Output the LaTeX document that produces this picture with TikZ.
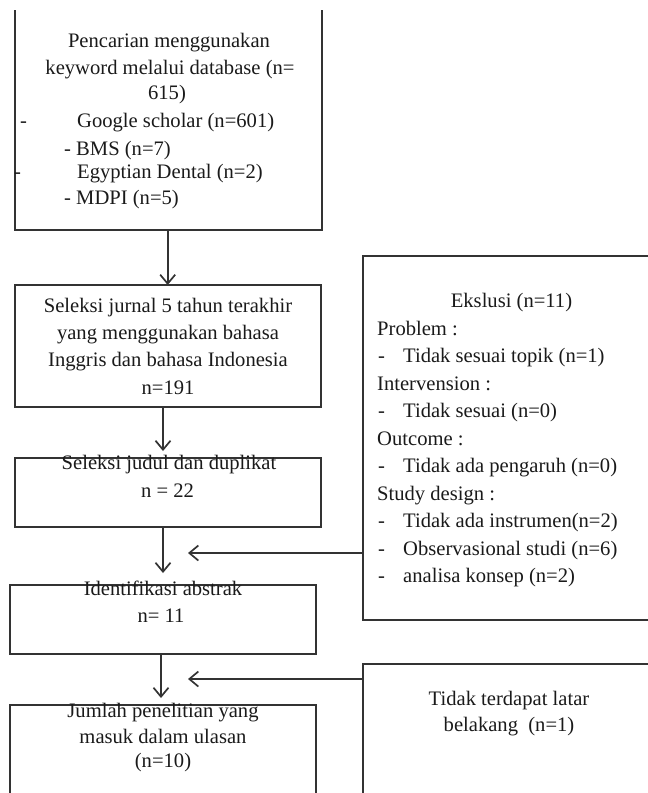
\documentclass[tikz,border=0pt]{standalone}
\usepackage{fontspec}
\setmainfont{Liberation Serif}
\usetikzlibrary{arrows.meta}
\definecolor{linec}{HTML}{333333}
\definecolor{textc}{HTML}{1A1A1A}
\tikzset{
  boxarea/.style={inner sep=0pt, outer sep=0pt, draw=none},
  boxline/.style={draw=linec, line width=1.7pt},
  arr/.style={draw=linec, line width=1.7pt, -{Straight Barb[length=9pt,width=15pt,line width=1.7pt]}},
  txt/.style={inner sep=0pt, anchor=base, text=textc, font=\fontsize{20.6}{27}\selectfont},
  ltxt/.style={txt, anchor=base west},
}
\begin{document}
\begin{tikzpicture}[x=1pt,y=-1pt]
\useasboundingbox (0,0) rectangle (648,793);
\clip (0,0) rectangle (648,793);
% box areas
\node[boxarea, minimum width=307pt, minimum height=220pt] (b1) at (168.5,120) {};
\node[boxarea, minimum width=306pt, minimum height=122pt] (b2) at (168,346) {};
\node[boxarea, minimum width=306pt, minimum height=69pt] (b3) at (168,492.5) {};
\node[boxarea, minimum width=306pt, minimum height=69pt] (b4) at (163,619.5) {};
\node[boxarea, minimum width=306pt, minimum height=100pt] (b5) at (163,755) {};
\node[boxarea, minimum width=300pt, minimum height=364pt] (ex) at (513,438) {};
\node[boxarea, minimum width=300pt, minimum height=150pt] (lt) at (513,739) {};
% box outlines
\draw[boxline] (b1.north west) -- (b1.south west) -- (b1.south east) -- (b1.north east);
\draw[boxline] (b2.north west) rectangle (b2.south east);
\draw[boxline] (b3.north west) rectangle (b3.south east);
\draw[boxline] (b4.north west) rectangle (b4.south east);
\draw[boxline] (b5.north west) rectangle (b5.south east);
\draw[boxline] (ex.north west) rectangle (ex.south east);
\draw[boxline] (lt.north west) rectangle (lt.south east);
% top box text
\node[txt] (t11) at (169,47) {Pencarian menggunakan};
\node[txt] (t12) at (170,74) {keyword melalui database (n=};
\node[txt] (t13) at (167,99.5) {615)};
\node[ltxt] (t14d) at (20,127) {-};
\node[ltxt] (t14) at (77,127.5) {Google scholar (n=601)};
\node[ltxt] (t15) at (64,155) {- BMS (n=7)};
\node[ltxt] (t16d) at (14,178) {-};
\node[ltxt] (t16) at (77,178) {Egyptian Dental (n=2)};
\node[ltxt] (t17) at (64,204) {- MDPI (n=5)};
% box 2
\node[txt] (t21) at (168,312) {Seleksi jurnal 5 tahun terakhir};
\node[txt] (t22) at (168,339) {yang menggunakan bahasa};
\node[txt] (t23) at (168,366.5) {Inggris dan bahasa Indonesia};
\node[txt] (t24) at (168,394) {n=191};
% box 3
\node[txt] (t31) at (169,469.5) {Seleksi judul dan duplikat};
\node[txt] (t32) at (167.5,497) {n = 22};
% box 4
\node[txt] (t41) at (163,595) {Identifikasi abstrak};
\node[txt] (t42) at (161,622) {n= 11};
% box 5
\node[txt] (t51) at (163,717.5) {Jumlah penelitian yang};
\node[txt] (t52) at (163,743.5) {masuk dalam ulasan};
\node[txt] (t53) at (163,767.5) {(n=10)};
% exclusion box
\node[txt] (e0) at (511.5,307.5) {Ekslusi (n=11)};
\node[ltxt] (e1) at (377,335) {Problem :};
\node[ltxt] (e2d) at (378,362.5) {-};
\node[ltxt] (e2) at (403,362.5) {Tidak sesuai topik (n=1)};
\node[ltxt] (e3) at (377,390) {Intervension :};
\node[ltxt] (e4d) at (378,417.5) {-};
\node[ltxt] (e4) at (403,417.5) {Tidak sesuai (n=0)};
\node[ltxt] (e5) at (377,445) {Outcome :};
\node[ltxt] (e6d) at (378,472.5) {-};
\node[ltxt] (e6) at (403,472.5) {Tidak ada pengaruh (n=0)};
\node[ltxt] (e7) at (377,500) {Study design :};
\node[ltxt] (e8d) at (378,527.5) {-};
\node[ltxt] (e8) at (403,527.5) {Tidak ada instrumen(n=2)};
\node[ltxt] (e9d) at (378,555) {-};
\node[ltxt] (e9) at (403,555) {Observasional studi (n=6)};
\node[ltxt] (e10d) at (378,582.5) {-};
\node[ltxt] (e10) at (403,582.5) {analisa konsep (n=2)};
% second exclusion box
\node[txt] (l1) at (509,705) {Tidak terdapat latar};
\node[txt] (l2) at (509,731.5) {belakang\ \ (n=1)};
% arrow ends
\coordinate (p1) at (167.7,230);
\coordinate (p2) at (163,407);
\coordinate (p3) at (163,527);
\coordinate (p4) at (161,654);
\coordinate (h1) at (188,553);
\coordinate (h2) at (188,679);
% arrows
\draw[arr] (p1) -- (p1 |- b2.north);
\draw[arr] (p2) -- ([yshift=7pt]p2 |- b3.north);
\draw[arr] (p3) -- ([yshift=12pt]p3 |- b4.north);
\draw[arr] (p4) -- ([yshift=7pt]p4 |- b5.north);
\draw[arr] (h1 -| ex.west) -- (h1);
\draw[arr] (h2 -| lt.west) -- (h2);
\end{tikzpicture}
\end{document}
